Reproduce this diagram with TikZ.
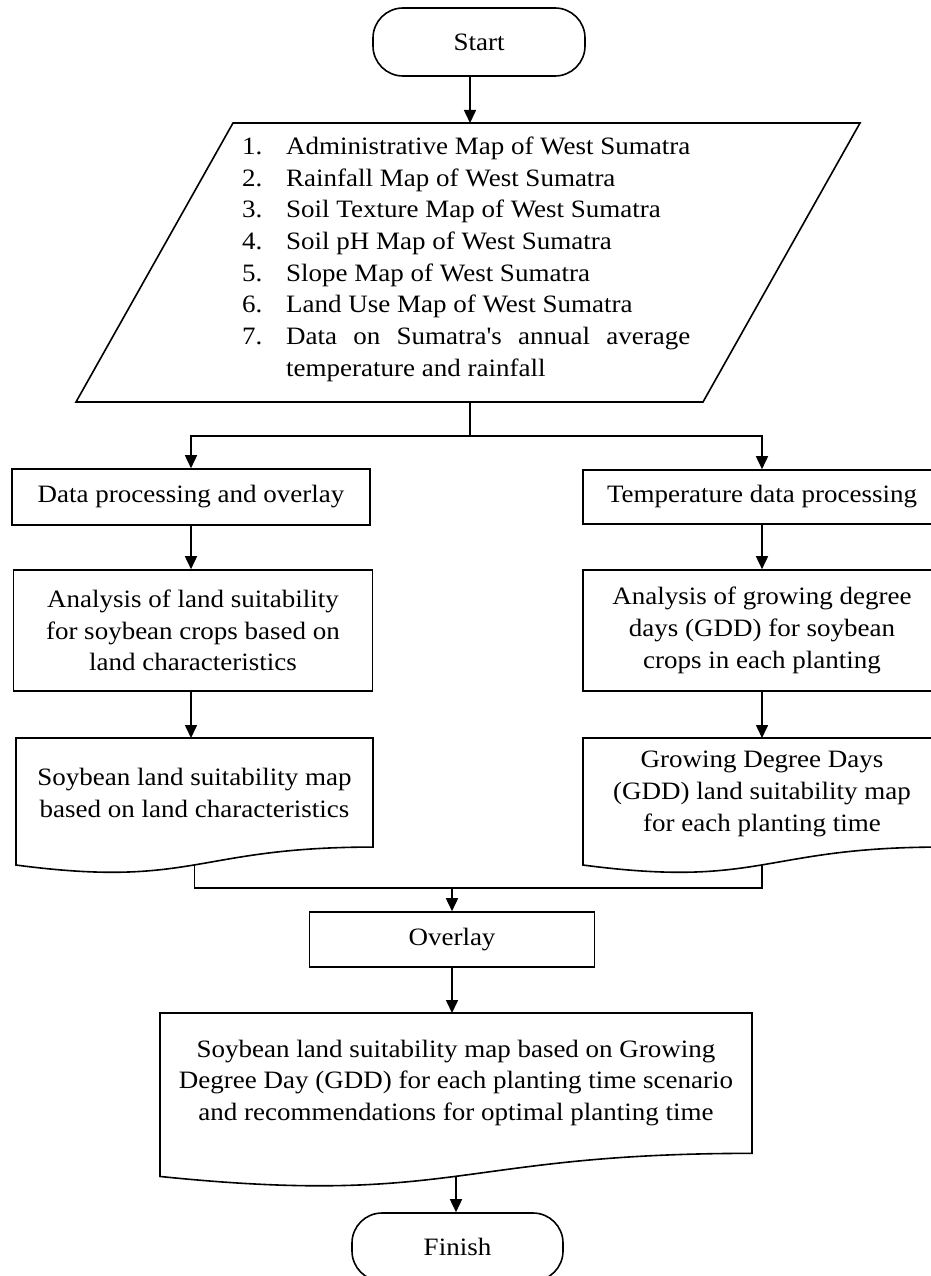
\documentclass[tikz,border=0pt]{standalone}
\usepackage{fontspec}
\setmainfont{Liberation Serif}[FakeStretch=1.08]
\newfontfamily\straightq{Liberation Serif}[FakeStretch=1.08]
\usetikzlibrary{arrows.meta}
\newcommand\docshape[5]{%
  \draw[conn, fill=white] (#1,#3) -- (#2,#3) -- (#2,{#3+0.802*#4})
    .. controls ({(#1+#2)/2},{#3+0.802*#4}) and ({(#1+#2)/2},{#3+1.1075*#4}) .. (#1,{#3+0.934*#4}) -- cycle;
  \coordinate (#5top) at ({(#1+#2)/2},#3);
  \coordinate (#5bot) at ({(#1+#2)/2},{#3+0.933*#4});
}
\begin{document}
\begin{tikzpicture}[x=1pt,y=-1pt,
  every node/.style={font=\fontsize{25}{31.7}\selectfont, align=center, inner sep=0pt},
  conn/.style={line width=1.6pt},
  box/.style={draw, line width=1.6pt},
  term/.style={draw, line width=1.6pt, rounded corners=30pt},
  arr/.style={conn, -{Triangle[length=13pt,width=12pt]}},
]
\useasboundingbox (0,0) rectangle (930,1276);

% Start
\node[term, minimum width=212pt, minimum height=68pt] (start) at (479,42) {Start};

% Input parallelogram
\draw[conn] (233,123) -- (860,123) -- (703,402) -- (76,402) -- cycle;
\coordinate (inTop) at (470,123);
\coordinate (inBot) at (470,402);
\node[anchor=north west, align=left] (list) at (242,132) {%
  \begin{tabular}{@{}p{44pt}@{}p{404pt}@{}}
  1. & Administrative Map of West Sumatra\\
  2. & Rainfall Map of West Sumatra\\
  3. & Soil Texture Map of West Sumatra\\
  4. & Soil pH Map of West Sumatra\\
  5. & Slope Map of West Sumatra\\
  6. & Land Use Map of West Sumatra\\
  7. & Data on Sumatra{\straightq'}s annual average\linebreak temperature and rainfall
  \end{tabular}};

% Processing boxes
\node[box, minimum width=358pt, minimum height=56pt] (dp) at (191,497) {Data processing and overlay};
\node[box, minimum width=358pt, minimum height=54pt] (tp) at (762,497) {Temperature data processing};

\node[box, minimum width=359pt, minimum height=121pt] (al) at (193,630.5)
  {Analysis of land suitability\\for soybean crops based on\\land characteristics};
\node[box, minimum width=358pt, minimum height=121pt] (ag) at (762,630.5)
  {Analysis of growing degree\\days (GDD) for soybean\\crops in each planting};

% Document shapes
\docshape{16}{373}{738}{136}{ld}
\docshape{583}{941}{738}{136}{rd}
\node (ldt) at (194.5,793) {Soybean land suitability map\\based on land characteristics};
\node (rdt) at (762,794) {Growing Degree Days\\(GDD) land suitability map\\for each planting time};

% Overlay
\node[box, minimum width=285pt, minimum height=55pt] (ov) at (452,939.5) {Overlay};

% Final document
\docshape{160}{752}{1013}{175}{fd}
\node (fdt) at (456,1083) {Soybean land suitability map based on Growing\\Degree Day (GDD) for each planting time scenario\\and recommendations for optimal planting time};

% Finish
\node[term, minimum width=211pt, minimum height=68pt] (finish) at (457.5,1247) {Finish};

% Connectors
\draw[arr] (inTop |- start.south) -- (inTop);
\coordinate (j1) at (470,436);
\draw[conn] (inBot) -- (j1);
\draw[arr] (j1) -| (dp.north);
\draw[arr] (j1) -| (tp.north);
\draw[arr] (dp.south) -- (dp.south |- al.north);
\draw[arr] (tp.south) -- (tp.south |- ag.north);
\draw[arr] (al.south -| dp.south) -- (dp.south |- ldtop);
\draw[arr] (ag.south -| tp.south) -- (tp.south |- rdtop);
\coordinate (j2) at (452,888);
\draw[conn] (ldbot) -- (ldbot |- j2) -- (rdbot |- j2) -- (rdbot);
\draw[arr] (j2) -- (j2 |- ov.north);
\draw[arr] (ov.south) -- (ov.south |- fdtop);
\draw[arr] (fdbot) -- (fdbot |- finish.north);
\end{tikzpicture}
\end{document}
